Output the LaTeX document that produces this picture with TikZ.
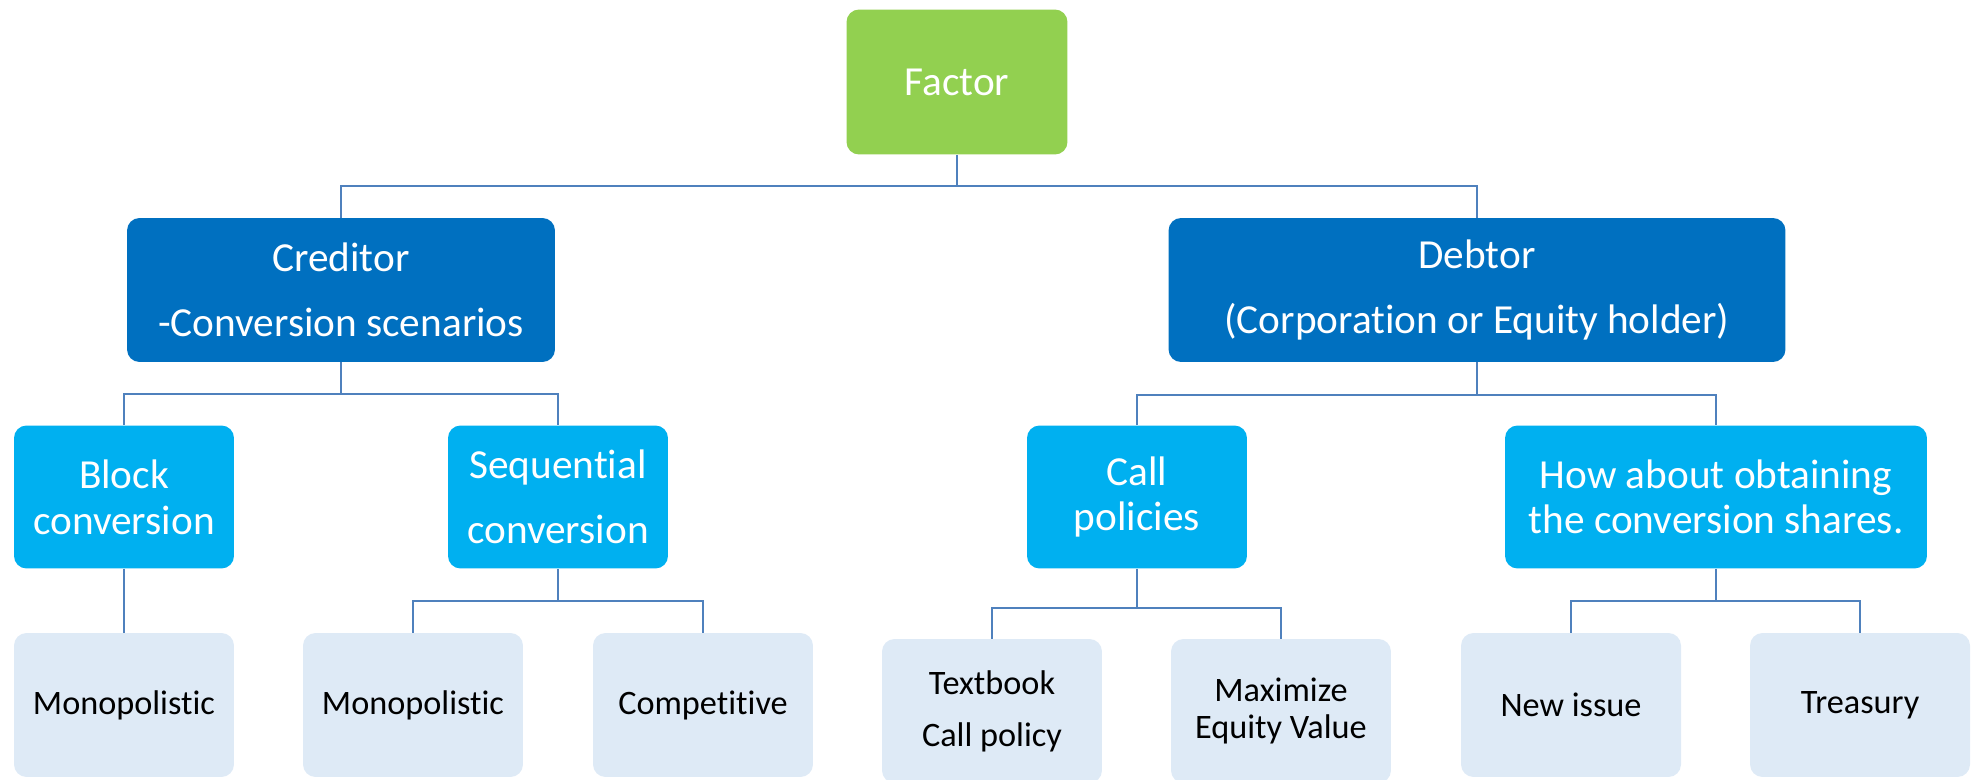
\documentclass[tikz,border=0pt]{standalone}
\usepackage{fontspec}
\setmainfont{Carlito}[Ligatures=NoCommon]
\usetikzlibrary{positioning}
\definecolor{factorgreen}{HTML}{92D050}
\definecolor{partyblue}{HTML}{0070C0}
\definecolor{branchblue}{HTML}{00B0F0}
\definecolor{leafblue}{HTML}{DEEAF6}
\definecolor{linkblue}{HTML}{4F81BD}

\begin{document}
\begin{tikzpicture}[x=0.02cm,y=-0.02cm]
\tikzstyle{box}=[rectangle, rounded corners=0.25cm, align=center, inner sep=0pt]
\tikzstyle{root}=[box, fill=factorgreen, text=white, minimum width=4.42cm, minimum height=2.9cm, font=\fontsize{23.5}{28}\selectfont]
\tikzstyle{party}=[box, fill=partyblue, text=white, minimum height=2.88cm, font=\fontsize{23.5}{28}\selectfont]
\tikzstyle{branch}=[box, fill=branchblue, text=white, minimum width=4.4cm, minimum height=2.86cm, font=\fontsize{23.5}{28}\selectfont]
\tikzstyle{leaf}=[box, fill=leafblue, text=black, minimum width=4.4cm, minimum height=2.88cm, font=\fontsize{19.5}{23.5}\selectfont]
\tikzstyle{connect}=[draw=linkblue, line width=1.4pt]
\useasboundingbox (0,0) rectangle (1973,780);

% first two levels
\node[root] (factor) at (957,82) {Factor};
\node[party, minimum width=8.56cm] (creditor) at (341,290) {Creditor\\[9pt]-Conversion scenarios};
\node[party, minimum width=12.34cm] (debtor) at (1477,290) {Debtor\\[9pt](Corporation or Equity holder)};

% branches
\node[branch] (block) at (124,497) {Block\\[-2pt]conversion};
\node[branch] (sequential) at (558,497) {Sequential\\[9pt]conversion};
\node[branch] (call) at (1137,497) {Call\\[-2pt]policies};
\node[branch, minimum width=8.44cm] (howabout) at (1716,497) {How about obtaining\\[-2.5pt]the conversion shares.};

% leaves
\node[leaf] (mono1) at (124,705) {Monopolistic};
\node[leaf] (mono2) at (413,705) {Monopolistic};
\node[leaf] (competitive) at (703,705) {Competitive};
\node[leaf] (textbook) at (992,711) {Textbook\\[6pt]Call policy};
\node[leaf] (maximize) at (1281,711) {Maximize\\[-2.5pt]Equity Value};
\node[leaf] (newissue) at (1571,705) {New issue};
\node[leaf] (treasury) at (1860,705) {Treasury};

% elbow connectors
\coordinate (bus0) at (957,186);
\coordinate (busC) at (341,394);
\coordinate (busD) at (1477,395);
\coordinate (busS) at (558,601);
\coordinate (busP) at (1137,608);
\coordinate (busH) at (1716,601);
\draw[connect] (factor) -- (bus0);
\draw[connect] (creditor) |- (bus0) -| (debtor);
\draw[connect] (creditor) -- (busC);
\draw[connect] (block) |- (busC) -| (sequential);
\draw[connect] (debtor) -- (busD);
\draw[connect] (call) |- (busD) -| (howabout);
\draw[connect] (block) -- (mono1);
\draw[connect] (sequential) -- (busS);
\draw[connect] (mono2) |- (busS) -| (competitive);
\draw[connect] (call) -- (busP);
\draw[connect] (textbook) |- (busP) -| (maximize);
\draw[connect] (howabout) -- (busH);
\draw[connect] (newissue) |- (busH) -| (treasury);
\end{tikzpicture}
\end{document}
